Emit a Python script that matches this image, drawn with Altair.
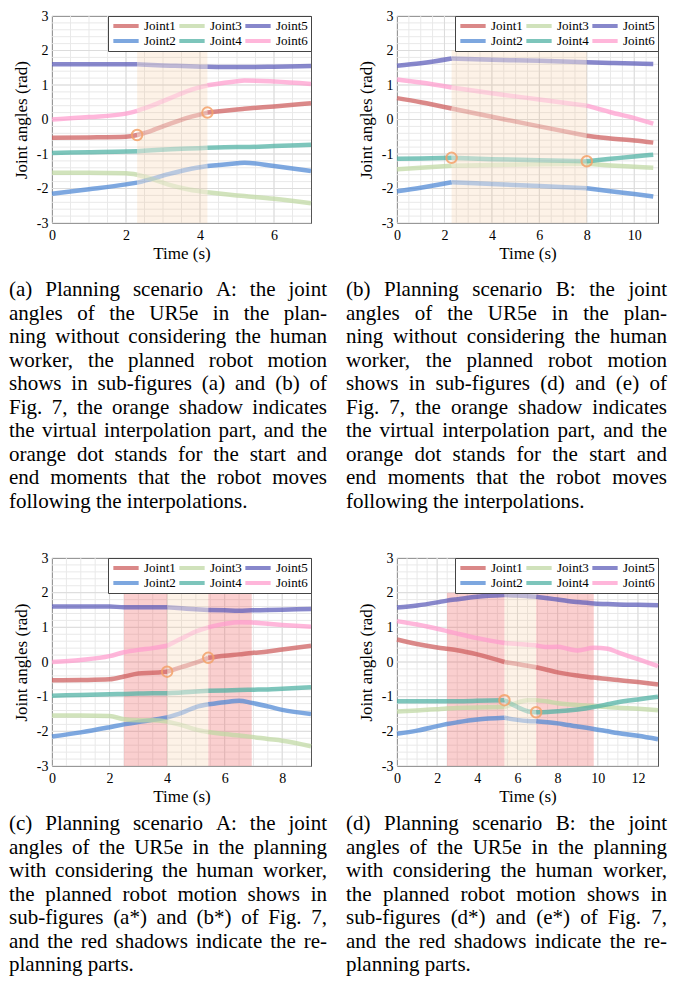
import altair as alt
import pandas as pd

FONT = "Liberation Serif"

JOINT_NAMES = ["Joint1", "Joint2", "Joint3", "Joint4", "Joint5", "Joint6"]
LINE_COLORS = ["#cd5b5b", "#4c86d4", "#bfd8a2", "#4cb0a2", "#5a5ab8", "#ff9bcd"]

# ---------------- Panel (a) ----------------
a_time = [0, 1, 2, 2.3, 2.7, 3.2, 3.7, 4.2, 5, 5.2, 6, 7]
a_joint1 = [-0.53, -0.52, -0.5, -0.45, -0.32, -0.12, 0.06, 0.2, 0.29, 0.31, 0.38, 0.47]
a_joint2 = [-2.15, -2.02, -1.88, -1.83, -1.72, -1.57, -1.44, -1.35, -1.27, -1.25, -1.35, -1.49]
a_joint3 = [-1.54, -1.54, -1.56, -1.6, -1.72, -1.9, -2.03, -2.11, -2.2, -2.22, -2.3, -2.43]
a_joint4 = [-0.97, -0.95, -0.93, -0.92, -0.89, -0.86, -0.84, -0.82, -0.8, -0.8, -0.77, -0.73]
a_joint5 = [1.6, 1.6, 1.6, 1.6, 1.58, 1.56, 1.54, 1.53, 1.52, 1.52, 1.53, 1.55]
a_joint6 = [0.0, 0.07, 0.17, 0.25, 0.4, 0.62, 0.84, 0.99, 1.11, 1.13, 1.1, 1.03]
a_shade_start = [2.3]
a_shade_end = [4.2]
a_shade_kind = ["virtual"]
a_light = [2.3, 4.2]
a_circle_time = [2.3, 4.2]
a_circle_angle = [-0.45, 0.2]
a_xmax = 7
a_xticks = [0, 2, 4, 6]

# ---------------- Panel (b) ----------------
b_time = [0, 1, 2.3, 4, 6, 8, 9, 10, 10.8]
b_joint1 = [0.62, 0.5, 0.32, 0.08, -0.2, -0.47, -0.55, -0.61, -0.67]
b_joint2 = [-2.08, -1.98, -1.82, -1.87, -1.93, -1.99, -2.08, -2.16, -2.23]
b_joint3 = [-1.44, -1.4, -1.34, -1.32, -1.3, -1.28, -1.33, -1.37, -1.4]
b_joint4 = [-1.14, -1.13, -1.11, -1.15, -1.18, -1.21, -1.14, -1.07, -1.02]
b_joint5 = [1.56, 1.63, 1.77, 1.73, 1.7, 1.66, 1.64, 1.62, 1.61]
b_joint6 = [1.16, 1.07, 0.93, 0.76, 0.58, 0.4, 0.21, 0.04, -0.12]
b_shade_start = [2.3]
b_shade_end = [8.0]
b_shade_kind = ["virtual"]
b_light = [2.3, 8.0]
b_circle_time = [2.3, 8.0]
b_circle_angle = [-1.11, -1.21]
b_xmax = 11
b_xticks = [0, 2, 4, 6, 8, 10]

# ---------------- Panel (c) ----------------
c_time = [0, 1, 2, 2.5, 3, 3.5, 4, 4.5, 5, 5.43, 6, 6.5, 6.94, 7.5, 8, 9]
c_joint1 = [-0.53, -0.52, -0.5, -0.42, -0.33, -0.31, -0.28, -0.15, -0.02, 0.12, 0.18, 0.22, 0.26, 0.3, 0.36, 0.47]
c_joint2 = [-2.15, -2.03, -1.88, -1.8, -1.73, -1.67, -1.6, -1.47, -1.3, -1.22, -1.16, -1.12, -1.18, -1.28, -1.38, -1.5]
c_joint3 = [-1.54, -1.54, -1.56, -1.65, -1.68, -1.68, -1.72, -1.82, -1.95, -2.02, -2.08, -2.12, -2.16, -2.22, -2.27, -2.43]
c_joint4 = [-0.97, -0.95, -0.93, -0.92, -0.91, -0.9, -0.9, -0.88, -0.85, -0.83, -0.82, -0.81, -0.8, -0.79, -0.77, -0.73]
c_joint5 = [1.6, 1.6, 1.6, 1.58, 1.58, 1.58, 1.58, 1.55, 1.52, 1.5, 1.49, 1.48, 1.49, 1.5, 1.51, 1.53]
c_joint6 = [0.0, 0.06, 0.17, 0.28, 0.35, 0.4, 0.47, 0.68, 0.88, 1.0, 1.1, 1.15, 1.14, 1.1, 1.07, 1.02]
c_shade_start = [2.5, 4.0, 5.43]
c_shade_end = [4.0, 5.43, 6.94]
c_shade_kind = ["replan", "virtual", "replan"]
c_light = [4.0, 5.43]
c_circle_time = [4.0, 5.43]
c_circle_angle = [-0.28, 0.12]
c_xmax = 9
c_xticks = [0, 2, 4, 6, 8]

# ---------------- Panel (d) ----------------
d_time = [0, 1, 2, 2.49, 3, 4, 5.35, 6, 6.5, 6.93, 7.5, 8, 8.5, 9, 9.8, 10.5, 11, 12, 13]
d_joint1 = [0.65, 0.52, 0.42, 0.38, 0.34, 0.22, 0.0, -0.06, -0.11, -0.15, -0.23, -0.3, -0.35, -0.39, -0.45, -0.49, -0.52, -0.58, -0.65]
d_joint2 = [-2.07, -1.98, -1.85, -1.79, -1.74, -1.66, -1.61, -1.67, -1.7, -1.71, -1.74, -1.77, -1.82, -1.86, -1.93, -2.0, -2.05, -2.13, -2.23]
d_joint3 = [-1.43, -1.4, -1.36, -1.34, -1.33, -1.31, -1.3, -1.17, -1.1, -1.1, -1.14, -1.19, -1.22, -1.24, -1.27, -1.3, -1.32, -1.35, -1.39]
d_joint4 = [-1.13, -1.13, -1.13, -1.13, -1.13, -1.12, -1.1, -1.3, -1.42, -1.45, -1.44, -1.42, -1.4, -1.37, -1.3, -1.22, -1.16, -1.08, -1.0]
d_joint5 = [1.57, 1.63, 1.72, 1.77, 1.81, 1.88, 1.93, 1.92, 1.9, 1.88, 1.84, 1.8, 1.76, 1.73, 1.69, 1.67, 1.66, 1.65, 1.64]
d_joint6 = [1.18, 1.08, 0.96, 0.89, 0.82, 0.69, 0.55, 0.52, 0.5, 0.48, 0.43, 0.44, 0.38, 0.33, 0.41, 0.38, 0.28, 0.08, -0.12]
d_shade_start = [2.49, 5.35, 6.93]
d_shade_end = [5.35, 6.93, 9.8]
d_shade_kind = ["replan", "virtual", "replan"]
d_light = [5.35, 6.93]
d_circle_time = [5.35, 6.93]
d_circle_angle = [-1.1, -1.45]
d_xmax = 13
d_xticks = [0, 2, 4, 6, 8, 10, 12]

Y_TICKS = [-3, -2, -1, 0, 1, 2, 3]
SHADE_TOP = 2
SHADE_BOTTOM = -3

# ---------------- Captions ----------------
cap_a = ["(a) Planning scenario A: the joint",
         "angles of the UR5e in the plan-",
         "ning without considering the human",
         "worker, the planned robot motion",
         "shows in sub-figures (a) and (b) of",
         "Fig. 7, the orange shadow indicates",
         "the virtual interpolation part, and the",
         "orange dot stands for the start and",
         "end moments that the robot moves",
         "following the interpolations."]
cap_b = ["(b) Planning scenario B: the joint",
         "angles of the UR5e in the plan-",
         "ning without considering the human",
         "worker, the planned robot motion",
         "shows in sub-figures (d) and (e) of",
         "Fig. 7, the orange shadow indicates",
         "the virtual interpolation part, and the",
         "orange dot stands for the start and",
         "end moments that the robot moves",
         "following the interpolations."]
cap_c = ["(c) Planning scenario A: the joint",
         "angles of the UR5e in the planning",
         "with considering the human worker,",
         "the planned robot motion shows in",
         "sub-figures (a*) and (b*) of Fig. 7,",
         "and the red shadows indicate the re-",
         "planning parts."]
cap_d = ["(d) Planning scenario B: the joint",
         "angles of the UR5e in the planning",
         "with considering the human worker,",
         "the planned robot motion shows in",
         "sub-figures (d*) and (e*) of Fig. 7,",
         "and the red shadows indicate the re-",
         "planning parts."]

# Times-Roman advance widths (per 1000 em) for justification
TIMES = {' ': 250, '!': 333, '(': 333, ')': 333, '*': 500, ',': 250, '-': 333, '.': 250,
         ':': 278, ';': 278, '?': 444}
for ch in "0123456789":
    TIMES[ch] = 500
TIMES.update(dict(zip("ABCDEFGHIJKLMNOPQRSTUVWXYZ",
                      [722, 667, 667, 722, 611, 556, 722, 722, 333, 389, 722, 611, 889,
                       722, 722, 556, 722, 667, 556, 611, 722, 722, 944, 722, 722, 611])))
TIMES.update(dict(zip("abcdefghijklmnopqrstuvwxyz",
                      [444, 500, 444, 500, 444, 333, 500, 500, 278, 278, 500, 278, 778,
                       500, 500, 500, 500, 333, 389, 278, 500, 500, 722, 500, 500, 444])))


def text_width(s, fs):
    return sum(TIMES.get(ch, 500) for ch in s) * fs / 1000.0


def axis_x(xticks):
    return alt.Axis(values=xticks, title="Time (s)", grid=False, ticks=False, domain=False,
                    labelFont=FONT, titleFont=FONT, labelFontSize=14, titleFontSize=17,
                    titleFontWeight="normal", labelColor="#000", titleColor="#000",
                    labelPadding=5, titlePadding=3, labelFlush=False)


def axis_y():
    return alt.Axis(values=Y_TICKS, title="Joint angles (rad)", grid=False, ticks=False,
                    domain=False, labelFont=FONT, titleFont=FONT, labelFontSize=14,
                    titleFontSize=17, titleFontWeight="normal", labelColor="#000",
                    titleColor="#000", labelPadding=4, titlePadding=6, labelFlush=False,
                    labelExpr="datum.value < 0 ? '-' + abs(datum.value) : '' + datum.value")


def panel(time, joints, s0, s1, skind, light, ct, ca, xmax, xticks, w, h):
    xs = alt.Scale(domain=[0, xmax], nice=False, zero=False)
    ys = alt.Scale(domain=[-3, 3], nice=False, zero=False)
    ax = axis_x(xticks)
    ay = axis_y()

    rows = []
    for name, vals in zip(JOINT_NAMES, joints):
        for seg in ("pre", "mid", "post"):
            for t, v in zip(time, vals):
                if seg == "pre" and t <= light[0]:
                    rows.append({"x": t, "y": v, "joint": name, "seg": name + seg, "kind": "solid"})
                elif seg == "mid" and light[0] <= t <= light[1]:
                    rows.append({"x": t, "y": v, "joint": name, "seg": name + seg, "kind": "light"})
                elif seg == "post" and t >= light[1]:
                    rows.append({"x": t, "y": v, "joint": name, "seg": name + seg, "kind": "solid"})
    lines_df = pd.DataFrame(rows)

    minor_x = [k * 0.5 for k in range(1, int(xmax * 2))]
    minor_y = [round(-3 + k * 0.2, 2) for k in range(1, 30)]
    gx = alt.Chart(pd.DataFrame({"x": minor_x})).mark_rule(color="#e9e9e9", strokeWidth=1).encode(
        x=alt.X("x:Q", scale=xs, axis=ax))
    gy = alt.Chart(pd.DataFrame({"y": minor_y})).mark_rule(color="#e9e9e9", strokeWidth=1).encode(
        y=alt.Y("y:Q", scale=ys, axis=ay))
    gxm = alt.Chart(pd.DataFrame({"x": xticks})).mark_rule(color="#dcdcdc", strokeWidth=1).encode(
        x=alt.X("x:Q", scale=xs, axis=ax))
    gym = alt.Chart(pd.DataFrame({"y": Y_TICKS})).mark_rule(color="#dcdcdc", strokeWidth=1).encode(
        y=alt.Y("y:Q", scale=ys, axis=ay))

    shade_df = pd.DataFrame({"x": s0, "x2": s1, "kind": skind,
                             "y": [SHADE_BOTTOM] * len(s0), "y2": [SHADE_TOP] * len(s0)})
    shade = alt.Chart(shade_df).mark_rect().encode(
        x=alt.X("x:Q", scale=xs, axis=ax), x2="x2:Q",
        y=alt.Y("y:Q", scale=ys, axis=ay), y2="y2:Q",
        fill=alt.Fill("kind:N", scale=alt.Scale(domain=["virtual", "replan"],
                                                range=["#f5b070", "#f06060"]), legend=None),
        fillOpacity=alt.FillOpacity("kind:N", scale=alt.Scale(domain=["virtual", "replan"],
                                                              range=[0.17, 0.3]), legend=None))

    leg = alt.Legend(orient="top-right", offset=0, columns=3, title=None, symbolType="stroke",
                     symbolStrokeWidth=4, symbolSize=640, labelFont=FONT, labelFontSize=13,
                     labelColor="#000", fillColor="#ffffff", strokeColor="#444444",
                     padding=3, columnPadding=1, rowPadding=1, labelOffset=3, clipHeight=14,
                     symbolOpacity=0.72, labelLimit=0)
    lines = alt.Chart(lines_df).mark_line(strokeWidth=4.5, strokeCap="butt",
                                          interpolate="monotone").encode(
        x=alt.X("x:Q", scale=xs, axis=ax),
        y=alt.Y("y:Q", scale=ys, axis=ay),
        color=alt.Color("joint:N", scale=alt.Scale(domain=JOINT_NAMES, range=LINE_COLORS),
                        legend=leg),
        opacity=alt.Opacity("kind:N", scale=alt.Scale(domain=["solid", "light"],
                                                      range=[0.72, 0.38]), legend=None),
        detail="seg:N")

    circ = alt.Chart(pd.DataFrame({"x": ct, "y": ca})).mark_point(
        shape="circle", filled=False, size=110, strokeWidth=2, color="#f4a26a", opacity=0.85).encode(
        x=alt.X("x:Q", scale=xs, axis=ax), y=alt.Y("y:Q", scale=ys, axis=ay))

    return alt.layer(gx, gy, gxm, gym, shade, lines, circ).properties(
        width=w, height=h, view=alt.ViewBackground(stroke="#555555", strokeWidth=1))


def caption(lines, off, text_w, chart_w, chart_h, first_base, lh, fs=21):
    left_rows, right_rows = [], []
    for i, line in enumerate(lines):
        words = line.split(" ")
        if i == len(lines) - 1 or len(words) == 1:
            left_rows.append({"px": 0.0, "line": i, "t": line})
            continue
        ws = [text_width(wd, fs) for wd in words]
        gap = (text_w - sum(ws)) / (len(words) - 1)
        pos = 0.0
        for k, wd in enumerate(words[:-1]):
            left_rows.append({"px": pos, "line": i, "t": wd})
            pos += ws[k] + gap
        right_rows.append({"px": text_w, "line": i, "t": words[-1]})
    d0 = -first_base / lh
    d1 = d0 + chart_h / lh
    xs = alt.Scale(domain=[off, off + chart_w], nice=False, zero=False)
    ys = alt.Scale(domain=[d0, d1], nice=False, zero=False, reverse=True)

    def layer(df, align):
        return alt.Chart(pd.DataFrame(df)).mark_text(
            align=align, baseline="alphabetic", font=FONT, fontSize=fs, color="#000").encode(
            x=alt.X("px:Q", scale=xs, axis=None),
            y=alt.Y("line:Q", scale=ys, axis=None),
            text="t:N")

    return alt.layer(layer(left_rows, "left"), layer(right_rows, "right")).properties(
        width=chart_w, height=chart_h, view=alt.ViewBackground(stroke="transparent"))


WA, WB = 259, 261
H1, H2 = 207, 208
GAP = 10
LH = 23.5

pA = panel(a_time, [a_joint1, a_joint2, a_joint3, a_joint4, a_joint5, a_joint6],
           a_shade_start, a_shade_end, a_shade_kind, a_light, a_circle_time, a_circle_angle,
           a_xmax, a_xticks, WA, H1)
pB = panel(b_time, [b_joint1, b_joint2, b_joint3, b_joint4, b_joint5, b_joint6],
           b_shade_start, b_shade_end, b_shade_kind, b_light, b_circle_time, b_circle_angle,
           b_xmax, b_xticks, WB, H1)
pC = panel(c_time, [c_joint1, c_joint2, c_joint3, c_joint4, c_joint5, c_joint6],
           c_shade_start, c_shade_end, c_shade_kind, c_light, c_circle_time, c_circle_angle,
           c_xmax, c_xticks, WA, H2)
pD = panel(d_time, [d_joint1, d_joint2, d_joint3, d_joint4, d_joint5, d_joint6],
           d_shade_start, d_shade_end, d_shade_kind, d_light, d_circle_time, d_circle_angle,
           d_xmax, d_xticks, WB, H2)

CAP1_H = 542 - GAP - (H1 + GAP)
cap1_base = 280 - (H1 + GAP)
CAP2_H = 205
cap2_base = 814 - (542 + H2 + GAP)

cA = caption(cap_a, 43, 318, WA, CAP1_H, cap1_base, LH)
cB = caption(cap_b, 51, 321, WB, CAP1_H, cap1_base, LH)
cC = caption(cap_c, 43, 318, WA, CAP2_H, cap2_base, LH)
cD = caption(cap_d, 51, 321, WB, CAP2_H, cap2_base, LH)

chart = alt.concat(pA, pB, cA, cB, pC, pD, cC, cD, columns=2,
                   spacing={"row": GAP, "column": 86}, bounds="flush").resolve_legend(
    color="independent").properties(padding=0).configure(font=FONT).configure_view(
    stroke="transparent")

chart.save("out.html", embed_options={"renderer": "svg", "actions": False})
